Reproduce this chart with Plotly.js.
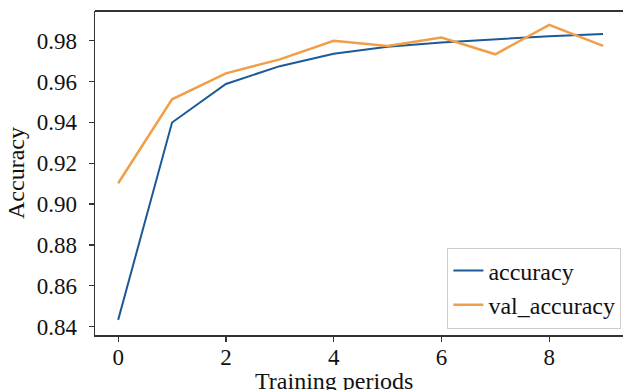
<!DOCTYPE html>
<html>
<head>
<meta charset="utf-8">
<script src="https://cdn.plot.ly/plotly-3.0.1.min.js"></script>
<style>html,body{margin:0;padding:0;background:#fff;}#chart{width:623px;height:390px;}</style>
</head>
<body>
<div id="chart"></div>
<script>
const epochs = [0, 1, 2, 3, 4, 5, 6, 7, 8, 9];
const accuracy = [0.8433, 0.9399, 0.9588, 0.9675, 0.9736, 0.9770, 0.9791, 0.9807, 0.9822, 0.9833];
const valAccuracy = [0.9102, 0.9513, 0.9640, 0.9708, 0.9799, 0.9774, 0.9815, 0.9733, 0.9877, 0.9774];
const yTicks = [0.84, 0.86, 0.88, 0.90, 0.92, 0.94, 0.96, 0.98];
const xTicks = [0, 2, 4, 6, 8];
const xTitle = 'Training periods';
const yTitle = 'Accuracy';

const FONT = 'Liberation Serif, Times New Roman, serif';
const traces = [
  {x: epochs, y: accuracy, name: 'accuracy', type: 'scatter', mode: 'lines',
   line: {color: '#1c5a97', width: 2}},
  {x: epochs, y: valAccuracy, name: 'val_accuracy', type: 'scatter', mode: 'lines',
   line: {color: '#f09f48', width: 2.5}}
];
const layout = {
  width: 623, height: 390,
  margin: {l: 95, r: 0, t: 11, b: 55},
  paper_bgcolor: '#ffffff', plot_bgcolor: '#ffffff',
  font: {family: FONT, color: '#111', size: 23},
  showlegend: true,
  legend: {x: 0.997, xanchor: 'right', y: 0.02, yanchor: 'bottom',
           bgcolor: '#ffffff', bordercolor: '#cccccc', borderwidth: 1,
           font: {family: FONT, size: 24, color: '#111'}, itemwidth: 30,
           tracegroupgap: 0},
  xaxis: {range: [-0.43, 9.37], tickvals: xTicks, ticktext: xTicks.map(String),
          showgrid: false, zeroline: false, showline: true, linecolor: '#333', linewidth: 1.5,
          mirror: false, ticks: 'outside', ticklen: 5, tickwidth: 1.3, tickcolor: '#333',
          ticklabelstandoff: -4,
          tickfont: {family: FONT, size: 23, color: '#111'}},
  yaxis: {range: [0.8359, 0.9945], tickvals: yTicks, ticktext: yTicks.map(v => v.toFixed(2)),
          showgrid: false, zeroline: false, showline: true, linecolor: '#333', linewidth: 1.5,
          ticks: 'outside', ticklen: 5, tickwidth: 1.3, tickcolor: '#333',
          ticklabelstandoff: 7,
          tickfont: {family: FONT, size: 23, color: '#111'}},
  annotations: [
    {text: xTitle, xref: 'paper', yref: 'paper', x: (334 - 95) / 528, y: -31 / 324,
     xanchor: 'center', yanchor: 'top', showarrow: false,
     font: {family: FONT, size: 24, color: '#111'}},
    {text: yTitle, xref: 'paper', yref: 'paper', x: (1 - 95) / 528, y: 0.5, textangle: -90,
     xanchor: 'left', yanchor: 'middle', showarrow: false,
     font: {family: FONT, size: 24, color: '#111'}}
  ],
  shapes: [{type: 'line', xref: 'paper', yref: 'paper', x0: 0, x1: 1, y0: 1, y1: 1,
            line: {color: '#333', width: 2}}]
};
Plotly.newPlot('chart', traces, layout, {displayModeBar: false, staticPlot: true});
</script>
</body>
</html>
